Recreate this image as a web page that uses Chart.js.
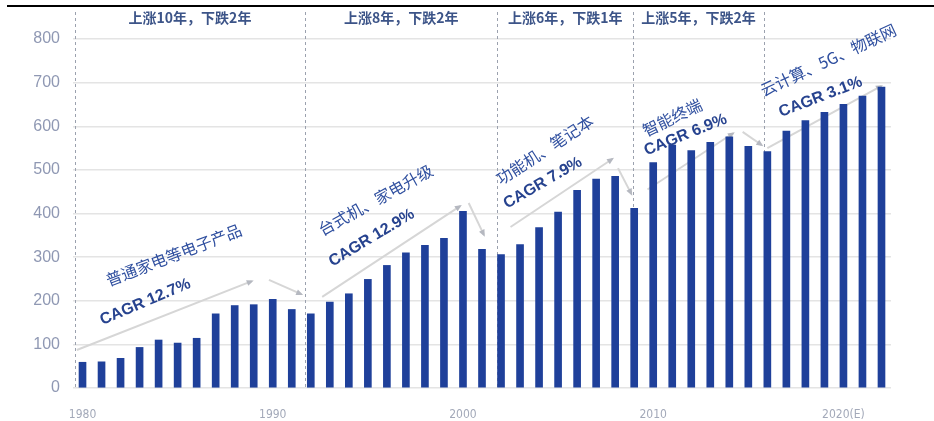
<!DOCTYPE html>
<html>
<head>
<meta charset="utf-8">
<script src="https://cdn.jsdelivr.net/npm/chart.js@4.4.1/dist/chart.umd.min.js"></script>
<style>
  html, body { margin: 0; padding: 0; background: #fff; }
  #wrap { width: 934px; height: 421px; }
</style>
</head>
<body>
<div id="wrap"><canvas id="salesChart" width="934" height="421"></canvas></div>
<script>
const years = [
  '1980', '1981', '1982', '1983', '1984', '1985', '1986', '1987', '1988', '1989',
  '1990', '1991', '1992', '1993', '1994', '1995', '1996', '1997', '1998', '1999',
  '2000', '2001', '2002', '2003', '2004', '2005', '2006', '2007', '2008', '2009',
  '2010', '2011', '2012', '2013', '2014', '2015', '2016', '2017', '2018', '2019',
  '2020', '2021', '2022'
];
const sales = [
  59, 60, 68, 93, 110, 103, 114, 170, 189, 191,
  203, 180, 170, 197, 216, 249, 281, 310, 327, 343,
  405, 318, 306, 329, 368, 403, 453, 479, 485, 412,
  517, 557, 544, 563, 576, 554, 542, 589, 613, 632,
  650, 669, 690
];
const xTickLabels = ['1980', '1990', '2000', '2010', '2020(E)'];
const yTicks = [0, 100, 200, 300, 400, 500, 600, 700, 800];

// 周期分隔线（按年份索引）和每段标题
const dividers = [-0.4, 11.7, 21.8, 28.95, 35.8];
const cycleTitles = ['上涨10年，下跌2年', '上涨8年，下跌2年', '上涨6年，下跌1年', '上涨5年，下跌2年'];

// 趋势箭头：[起点索引, 起点值, 终点索引, 终点值]
const arrows = [
  [-0.3, 87, 8.9, 245],
  [9.8, 248, 11.5, 215],
  [12.6, 209, 19.85, 417],
  [20.3, 424, 21.1, 351],
  [22.5, 369, 27.85, 525],
  [28.15, 504, 28.85, 445],
  [29.7, 455, 34.2, 584],
  [34.7, 587, 35.7, 557],
  [36.0, 550, 41.98, 692]
];

// 斜向说明文字：[文字, 中心索引, 中心值, 角度, 是否CAGR]
const notes = [
  ['普通家电等电子产品', 4.8, 305, -21, false],
  ['CAGR 12.7%', 3.3, 197, -23, true],
  ['台式机、家电升级', 15.4, 431, -29, false],
  ['CAGR 12.9%', 15.2, 344, -31, true],
  ['功能机、笔记本', 24.3, 546, -33, false],
  ['CAGR 7.9%', 24.2, 470, -30, true],
  ['智能终端', 31.0, 620, -26, false],
  ['CAGR 6.9%', 31.7, 580, -22, true],
  ['云计算、5G、物联网', 39.2, 752, -25, false],
  ['CAGR 3.1%', 38.8, 667, -21, true]
];

const overlay = {
  id: 'overlay',
  beforeDatasetsDraw(chart) {
    const ctx = chart.ctx;
    const x = chart.scales.x, y = chart.scales.y;
    ctx.save();
    // 分隔虚线
    ctx.strokeStyle = '#9ba1ae';
    ctx.lineWidth = 1;
    ctx.setLineDash([3, 3]);
    dividers.forEach(d => {
      const px = Math.round(x.getPixelForValue(d)) + 0.5;
      ctx.beginPath();
      ctx.moveTo(px, 12);
      ctx.lineTo(px, y.getPixelForValue(0));
      ctx.stroke();
    });
    ctx.setLineDash([]);
    // 趋势箭头
    arrows.forEach(a => {
      const x1 = x.getPixelForValue(a[0]), y1 = y.getPixelForValue(a[1]);
      const x2 = x.getPixelForValue(a[2]), y2 = y.getPixelForValue(a[3]);
      ctx.strokeStyle = '#d6d6d6';
      ctx.lineWidth = 2;
      ctx.beginPath();
      ctx.moveTo(x1, y1);
      ctx.lineTo(x2, y2);
      ctx.stroke();
      const ang = Math.atan2(y2 - y1, x2 - x1);
      ctx.fillStyle = '#b5b8c0';
      ctx.beginPath();
      ctx.moveTo(x2 + 2 * Math.cos(ang), y2 + 2 * Math.sin(ang));
      ctx.lineTo(x2 - 5 * Math.cos(ang) + 3 * Math.sin(ang), y2 - 5 * Math.sin(ang) - 3 * Math.cos(ang));
      ctx.lineTo(x2 - 5 * Math.cos(ang) - 3 * Math.sin(ang), y2 - 5 * Math.sin(ang) + 3 * Math.cos(ang));
      ctx.closePath();
      ctx.fill();
    });
    ctx.restore();
  },
  afterDraw(chart) {
    const ctx = chart.ctx;
    const x = chart.scales.x, y = chart.scales.y;
    ctx.save();
    // 顶部黑线
    ctx.fillStyle = '#000';
    ctx.fillRect(7, 5, 927, 2);
    // 各周期标题
    ctx.fillStyle = '#3c5488';
    ctx.font = 'bold 14px "Noto Sans CJK SC", sans-serif';
    ctx.textAlign = 'center';
    ctx.textBaseline = 'middle';
    cycleTitles.forEach((t, i) => {
      const cx = (x.getPixelForValue(dividers[i]) + x.getPixelForValue(dividers[i + 1])) / 2;
      ctx.fillText(t, cx, 18);
    });
    // 斜向说明
    notes.forEach(n => {
      ctx.save();
      ctx.translate(x.getPixelForValue(n[1]), y.getPixelForValue(n[2]));
      ctx.rotate(n[3] * Math.PI / 180);
      if (n[4]) {
        ctx.font = 'bold 16px "Liberation Sans", Arial, sans-serif';
        ctx.fillStyle = '#27438f';
      } else {
        ctx.font = '16px "Noto Sans CJK SC", sans-serif';
        ctx.fillStyle = '#2f4f9f';
      }
      ctx.fillText(n[0], 0, 0);
      ctx.restore();
    });
    ctx.restore();
  }
};

new Chart(document.getElementById('salesChart'), {
  type: 'bar',
  data: {
    labels: years,
    datasets: [{
      data: sales,
      backgroundColor: '#1f409a',
      barThickness: 7
    }]
  },
  options: {
    responsive: false,
    animation: false,
    layout: { padding: { top: 39, right: 43, left: 0, bottom: 0 } },
    plugins: { legend: { display: false }, tooltip: { enabled: false } },
    scales: {
      x: {
        grid: { display: false },
        border: { display: false },
        afterFit(scale) { scale.height = 33; },
        ticks: {
          autoSkip: false,
          maxRotation: 0,
          padding: 12,
          color: '#a3a9b9',
          font: { family: '"Liberation Sans Narrow", "DejaVu Sans Condensed", sans-serif', size: 12 },
          callback: (v, i) => (i % 10 === 0 ? xTickLabels[i / 10] : '')
        }
      },
      y: {
        min: yTicks[0],
        max: yTicks[yTicks.length - 1],
        afterFit(scale) { scale.width = 73; },
        afterBuildTicks(scale) { scale.ticks = yTicks.map(v => ({ value: v })); },
        grid: { color: '#e4e4e4', lineWidth: 1.5, drawTicks: false },
        border: { display: false },
        ticks: {
          padding: 13,
          color: '#8f98b3',
          font: { family: '"Liberation Sans", Arial, sans-serif', size: 16 }
        }
      }
    }
  },
  plugins: [overlay]
});
</script>
</body>
</html>
